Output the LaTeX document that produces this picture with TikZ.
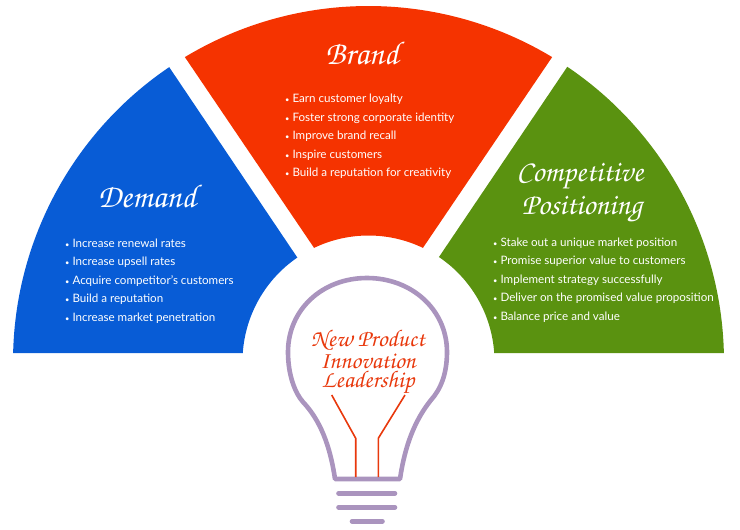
\documentclass[tikz,border=0pt]{standalone}
\usepackage[T1]{fontenc}
\usepackage{fontspec}
\setmainfont{Lato}
\definecolor{demandblue}{RGB}{8,92,214}
\definecolor{brandred}{RGB}{245,51,0}
\definecolor{posgreen}{RGB}{90,146,16}
\definecolor{bulbpurple}{RGB}{170,148,190}
\definecolor{wirered}{RGB}{232,56,12}
\newcommand{\titlefont}{\usefont{T1}{pzc}{mb}{it}}
\newcommand{\puce}{{\fontsize{7.5}{7.5}\selectfont•}\hspace{3pt}}
\begin{document}
\begin{tikzpicture}[x=1pt, y=1pt]
\tikzset{titre/.style={white, font=\titlefont\fontsize{33}{33}\selectfont, inner sep=0pt}}
\tikzset{titrelong/.style={titre, font=\titlefont\fontsize{30}{30}\selectfont}}
\tikzset{titrebulb/.style={text=wirered, inner sep=0pt, font=\titlefont\fontsize{24}{24}\selectfont}}
\tikzset{liste/.style={white, anchor=west, align=left, inner sep=0pt, font=\fontsize{11.6}{18.6}\selectfont}}
\tikzset{bulb/.style={draw=bulbpurple, line width=4.6pt, line cap=round, line join=round}}
\tikzset{wire/.style={draw=wirered, line width=1.6pt}}
\useasboundingbox (0, 0) rectangle (740, -530);
\coordinate (C) at (368.5, -361.5);
\fill[demandblue] ([shift={(124.1:355.5)}]C) arc[start angle=124.1, end angle=178.63, radius=355.5] -- ([shift={(176.13:126)}]C) arc[start angle=176.13, end angle=124.4, radius=126] -- cycle;
\fill[brandred] ([shift={(121.1:355.5)}]C) arc[start angle=121.1, end angle=58.9, radius=355.5] -- ([shift={(64.4:126)}]C) arc[start angle=64.4, end angle=115.6, radius=126] -- cycle;
\fill[posgreen] ([shift={(56:355.5)}]C) arc[start angle=56, end angle=1.37, radius=355.5] -- ([shift={(3.87:126)}]C) arc[start angle=3.87, end angle=56, radius=126] -- cycle;
\node[titre] (demand) at (147, -196) {Demand};
\node[titre] (brand) at (362, -53) {Brand};
\node[titrelong] (comp) at (580, -177) {Competitive};
\node[titrelong] (pos) at (582, -210) {Positioning};
\node[liste] (demandlist) at (65, -281) {\puce Increase renewal rates\\\puce Increase upsell rates\\\puce Acquire competitor’s customers\\\puce Build a reputation\\\puce Increase market penetration};
\node[liste] (brandlist) at (285, -136.5) {\puce Earn customer loyalty\\\puce Foster strong corporate identity\\\puce Improve brand recall\\\puce Inspire customers\\\puce Build a reputation for creativity};
\node[liste] (complist) at (493, -280) {\puce Stake out a unique market position\\\puce Promise superior value to customers\\\puce Implement strategy successfully\\\puce Deliver on the promised value proposition\\\puce Balance price and value};
\draw[bulb] (335, -479) .. controls (330, -445) and (320, -420) .. (303, -402) .. controls (295, -393) and (288, -375) .. (288, -352) .. controls (288, -310) and (322, -278) .. (367, -278) .. controls (412, -278) and (447, -310) .. (447, -352) .. controls (447, -375) and (440, -390) .. (431, -400) .. controls (415, -420) and (405, -445) .. (400, -479) -- cycle;
\coordinate (W1) at (331.7, -395);
\coordinate (W2) at (355.7, -438.3);
\coordinate (W3) at (355.7, -477);
\coordinate (W4) at (405, -395);
\coordinate (W5) at (378.3, -438.3);
\coordinate (W6) at (378.3, -477);
\draw[wire] (W1) -- (W2) -- (W3);
\draw[wire] (W4) -- (W5) -- (W6);
\coordinate (B1) at (338.5, -493.3);
\coordinate (B2) at (395, -493.3);
\coordinate (B3) at (338.5, -507.3);
\coordinate (B4) at (395, -507.3);
\coordinate (B5) at (352, -521.3);
\coordinate (B6) at (382.5, -521.3);
\draw[bulb] (B1) -- (B2);
\draw[bulb] (B3) -- (B4);
\draw[bulb] (B5) -- (B6);
\node[titrebulb] (new) at (368, -340) {New Product};
\node[titrebulb] (inno) at (368, -361.7) {Innovation};
\node[titrebulb] (lead) at (368, -383) {Leadership};
\end{tikzpicture}
\end{document}
